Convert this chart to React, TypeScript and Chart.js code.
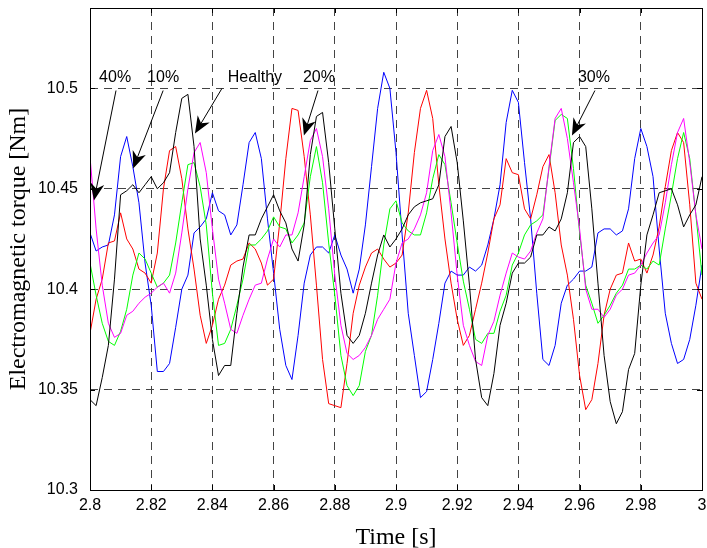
import React, { useEffect, useRef } from "react";
import { Chart, registerables } from "chart.js";

Chart.register(...registerables);

// Sample times [s]
const timeS = [
  2.800, 2.802, 2.804, 2.806, 2.808, 2.810, 2.812, 2.814, 2.816, 2.818,
  2.820, 2.822, 2.824, 2.826, 2.828, 2.830, 2.832, 2.834, 2.836, 2.838,
  2.840, 2.842, 2.844, 2.846, 2.848, 2.850, 2.852, 2.854, 2.856, 2.858,
  2.860, 2.862, 2.864, 2.866, 2.868, 2.870, 2.872, 2.874, 2.876, 2.878,
  2.880, 2.882, 2.884, 2.886, 2.888, 2.890, 2.892, 2.894, 2.896, 2.898,
  2.900, 2.902, 2.904, 2.906, 2.908, 2.910, 2.912, 2.914, 2.916, 2.918,
  2.920, 2.922, 2.924, 2.926, 2.928, 2.930, 2.932, 2.934, 2.936, 2.938,
  2.940, 2.942, 2.944, 2.946, 2.948, 2.950, 2.952, 2.954, 2.956, 2.958,
  2.960, 2.962, 2.964, 2.966, 2.968, 2.970, 2.972, 2.974, 2.976, 2.978,
  2.980, 2.982, 2.984, 2.986, 2.988, 2.990, 2.992, 2.994, 2.996, 2.998,
  3.000,
];

// Electromagnetic torque [Nm], one array per trace
const torqueBlue = [
  10.428, 10.419, 10.421, 10.422, 10.437, 10.466, 10.476, 10.461, 10.443, 10.413,
  10.392, 10.359, 10.359, 10.363, 10.381, 10.400, 10.407, 10.428, 10.431, 10.435,
  10.448, 10.439, 10.437, 10.427, 10.432, 10.452, 10.473, 10.478, 10.465, 10.435,
  10.408, 10.380, 10.362, 10.355, 10.377, 10.403, 10.417, 10.421, 10.421, 10.418,
  10.427, 10.417, 10.410, 10.398, 10.410, 10.432, 10.461, 10.490, 10.508, 10.500,
  10.468, 10.427, 10.388, 10.367, 10.346, 10.349, 10.365, 10.383, 10.403, 10.409,
  10.407, 10.407, 10.411, 10.409, 10.412, 10.422, 10.435, 10.452, 10.483, 10.499,
  10.493, 10.463, 10.435, 10.398, 10.365, 10.362, 10.372, 10.393, 10.402, 10.405,
  10.409, 10.409, 10.411, 10.428, 10.430, 10.430, 10.427, 10.429, 10.440, 10.465,
  10.480, 10.471, 10.456, 10.420, 10.388, 10.373, 10.363, 10.365, 10.375, 10.392,
  10.412,
];

const torqueRed = [
  10.378, 10.395, 10.405, 10.423, 10.424, 10.438, 10.425, 10.420, 10.410, 10.408,
  10.403, 10.418, 10.450, 10.469, 10.471, 10.455, 10.430, 10.410, 10.387, 10.373,
  10.382, 10.395, 10.402, 10.412, 10.414, 10.415, 10.423, 10.420, 10.413, 10.402,
  10.405, 10.433, 10.465, 10.490, 10.489, 10.466, 10.437, 10.402, 10.365, 10.343,
  10.342, 10.341, 10.363, 10.388, 10.402, 10.411, 10.418, 10.420, 10.415, 10.411,
  10.413, 10.417, 10.438, 10.468, 10.490, 10.499, 10.485, 10.452, 10.425, 10.403,
  10.385, 10.372, 10.377, 10.390, 10.403, 10.418, 10.435, 10.442, 10.465, 10.458,
  10.457, 10.440, 10.435, 10.447, 10.461, 10.467, 10.448, 10.422, 10.407, 10.385,
  10.357, 10.340, 10.345, 10.363, 10.387, 10.400, 10.407, 10.408, 10.423, 10.414,
  10.415, 10.408, 10.417, 10.431, 10.451, 10.469, 10.478, 10.473, 10.442, 10.403,
  10.395,
];

const torqueGreen = [
  10.413, 10.397, 10.383, 10.374, 10.372, 10.379, 10.390, 10.407, 10.418, 10.415,
  10.408, 10.401, 10.403, 10.407, 10.423, 10.443, 10.462, 10.463, 10.451, 10.432,
  10.398, 10.372, 10.373, 10.380, 10.392, 10.405, 10.422, 10.422, 10.425, 10.429,
  10.436, 10.431, 10.430, 10.423, 10.427, 10.433, 10.456, 10.471, 10.453, 10.423,
  10.397, 10.367, 10.352, 10.347, 10.352, 10.369, 10.377, 10.397, 10.422, 10.440,
  10.444, 10.433, 10.429, 10.427, 10.427, 10.438, 10.455, 10.467, 10.462, 10.443,
  10.423, 10.404, 10.390, 10.375, 10.373, 10.378, 10.378, 10.389, 10.397, 10.412,
  10.418, 10.427, 10.432, 10.434, 10.437, 10.460, 10.484, 10.487, 10.485, 10.460,
  10.428, 10.402, 10.393, 10.383, 10.387, 10.392, 10.398, 10.402, 10.410, 10.410,
  10.412, 10.410, 10.414, 10.412, 10.430, 10.447, 10.465, 10.478, 10.465, 10.437,
  10.407,
];

const torqueMagenta = [
  10.466, 10.430, 10.402, 10.383, 10.376, 10.378, 10.387, 10.389, 10.393, 10.396,
  10.398, 10.401, 10.403, 10.398, 10.408, 10.428, 10.450, 10.468, 10.473, 10.458,
  10.430, 10.405, 10.393, 10.380, 10.378, 10.387, 10.395, 10.402, 10.403, 10.415,
  10.425, 10.421, 10.427, 10.427, 10.438, 10.456, 10.474, 10.480, 10.466, 10.440,
  10.407, 10.382, 10.368, 10.365, 10.367, 10.371, 10.377, 10.385, 10.390, 10.395,
  10.413, 10.423, 10.425, 10.430, 10.437, 10.448, 10.469, 10.477, 10.466, 10.438,
  10.407, 10.382, 10.372, 10.364, 10.362, 10.377, 10.384, 10.397, 10.408, 10.418,
  10.416, 10.415, 10.419, 10.428, 10.435, 10.461, 10.485, 10.490, 10.475, 10.453,
  10.430, 10.400, 10.390, 10.390, 10.386, 10.390, 10.397, 10.400, 10.407, 10.408,
  10.412, 10.418, 10.423, 10.427, 10.443, 10.462, 10.478, 10.485, 10.463, 10.437,
  10.420,
];

const torqueBlack = [
  10.345, 10.342, 10.356, 10.372, 10.405, 10.447, 10.449, 10.452, 10.448, 10.452,
  10.456, 10.450, 10.453, 10.458, 10.478, 10.495, 10.497, 10.471, 10.425, 10.402,
  10.375, 10.357, 10.362, 10.362, 10.388, 10.411, 10.427, 10.427, 10.435, 10.441,
  10.447, 10.439, 10.433, 10.420, 10.414, 10.432, 10.467, 10.486, 10.488, 10.463,
  10.430, 10.398, 10.377, 10.373, 10.377, 10.388, 10.403, 10.417, 10.427, 10.421,
  10.425, 10.430, 10.437, 10.441, 10.443, 10.444, 10.445, 10.452, 10.476, 10.481,
  10.463, 10.434, 10.402, 10.365, 10.346, 10.342, 10.358, 10.382, 10.393, 10.408,
  10.413, 10.413, 10.416, 10.427, 10.427, 10.431, 10.429, 10.435, 10.448, 10.473,
  10.476, 10.471, 10.440, 10.403, 10.367, 10.344, 10.333, 10.339, 10.360, 10.368,
  10.402, 10.427, 10.437, 10.448, 10.449, 10.450, 10.442, 10.431, 10.437, 10.442,
  10.456,
];

// Axis ticks
const xTickValues = [2.8, 2.82, 2.84, 2.86, 2.88, 2.9, 2.92, 2.94, 2.96, 2.98, 3.0];
const xTickLabels = ["2.8", "2.82", "2.84", "2.86", "2.88", "2.9", "2.92", "2.94", "2.96", "2.98", "3"];
const yTickValues = [10.3, 10.35, 10.4, 10.45, 10.5];
const yTickLabels = ["10.3", "10.35", "10.4", "10.45", "10.5"];

// Annotations (in data coordinates)
const noteTexts = ["40%", "10%", "Healthy", "20%", "30%"];
const noteTextX = [2.8082, 2.8239, 2.8539, 2.8748, 2.9647];
const noteTextY = [10.5052, 10.5052, 10.5052, 10.5052, 10.5052];
const arrowTailX = [2.8085, 2.8239, 2.8431, 2.8745, 2.965];
const arrowTailY = [10.4989, 10.4989, 10.4999, 10.4989, 10.4989];
const arrowTipX = [2.8013, 2.8141, 2.8343, 2.8699, 2.9575];
const arrowTipY = [10.4442, 10.4601, 10.4775, 10.4765, 10.4765];

const SANS = "'Liberation Sans', Arial, sans-serif";
const SERIF = "'Liberation Serif', 'Times New Roman', serif";

const framePlugin = {
  id: "matlabFrame",
  afterDatasetsDraw(chart: any) {
    const { ctx, chartArea: a, scales } = chart;
    const xs = scales.x;
    const ys = scales.y;
    ctx.save();
    ctx.strokeStyle = "#000";
    ctx.lineWidth = 1;
    ctx.setLineDash([]);
    ctx.beginPath();
    const tl = 5;
    xTickValues.forEach((v) => {
      const px = Math.round(xs.getPixelForValue(v)) + 0.5;
      ctx.moveTo(px, a.bottom);
      ctx.lineTo(px, a.bottom - tl);
      ctx.moveTo(px, a.top);
      ctx.lineTo(px, a.top + tl);
    });
    yTickValues.forEach((v) => {
      const py = Math.round(ys.getPixelForValue(v)) + 0.5;
      ctx.moveTo(a.left, py);
      ctx.lineTo(a.left + tl, py);
      ctx.moveTo(a.right, py);
      ctx.lineTo(a.right - tl, py);
    });
    ctx.stroke();
    ctx.strokeRect(Math.round(a.left) + 0.5, Math.round(a.top) + 0.5, Math.round(a.right - a.left), Math.round(a.bottom - a.top));

    // annotations
    ctx.fillStyle = "#000";
    ctx.font = `16px ${SANS}`;
    ctx.textAlign = "center";
    ctx.textBaseline = "middle";
    noteTexts.forEach((txt, i) => {
      const tx = xs.getPixelForValue(noteTextX[i]);
      const ty = ys.getPixelForValue(noteTextY[i]);
      ctx.fillText(txt, tx, ty);
      const x0 = xs.getPixelForValue(arrowTailX[i]);
      const y0 = ys.getPixelForValue(arrowTailY[i]);
      const x1 = xs.getPixelForValue(arrowTipX[i]);
      const y1 = ys.getPixelForValue(arrowTipY[i]);
      const dx = x1 - x0;
      const dy = y1 - y0;
      const len = Math.hypot(dx, dy);
      const ux = dx / len;
      const uy = dy / len;
      const nx = -uy;
      const ny = ux;
      const L = 17;
      const W = 7;
      ctx.beginPath();
      ctx.moveTo(x0, y0);
      ctx.lineTo(x1 - ux * 8, y1 - uy * 8);
      ctx.stroke();
      const bx = x1 - ux * L;
      const by = y1 - uy * L;
      ctx.beginPath();
      ctx.moveTo(x1, y1);
      ctx.lineTo(bx + nx * W, by + ny * W);
      ctx.lineTo(x1 - ux * L * 0.7, y1 - uy * L * 0.7);
      ctx.lineTo(bx - nx * W, by - ny * W);
      ctx.closePath();
      ctx.fill();
    });
    ctx.restore();
  },
};

const zeroPadding = (s: any) => {
  s.paddingTop = 0;
  s.paddingBottom = 0;
  s.paddingLeft = 0;
  s.paddingRight = 0;
};

export default function App() {
  const canvasRef = useRef<HTMLCanvasElement | null>(null);

  useEffect(() => {
    const canvas = canvasRef.current;
    if (!canvas) return;
    const mk = (arr: number[]) => timeS.map((t, i) => ({ x: t, y: arr[i] }));
    const chart = new Chart(canvas, {
      type: "line",
      data: {
        datasets: [
          { label: "black", data: mk(torqueBlack), borderColor: "#000000" },
          { label: "magenta", data: mk(torqueMagenta), borderColor: "#ff00ff" },
          { label: "green", data: mk(torqueGreen), borderColor: "#00ff00" },
          { label: "red", data: mk(torqueRed), borderColor: "#ff0000" },
          { label: "blue", data: mk(torqueBlue), borderColor: "#0000ff" },
        ],
      },
      options: {
        animation: false,
        responsive: false,
        devicePixelRatio: 1,
        layout: { padding: { top: 8, right: 5, left: 0, bottom: 0 } },
        plugins: { legend: { display: false }, tooltip: { enabled: false } },
        elements: {
          point: { radius: 0 },
          line: { borderWidth: 1, tension: 0, fill: false },
        },
        scales: {
          x: {
            type: "linear",
            min: 2.8,
            max: 3.0,
            afterBuildTicks: (s: any) => {
              s.ticks = xTickValues.map((v) => ({ value: v }));
            },
            afterFit: (s: any) => {
              s.height = 58;
              zeroPadding(s);
            },
            ticks: {
              autoSkip: false,
              maxRotation: 0,
              padding: 6,
              color: "#000",
              font: { family: SANS, size: 16 },
              callback: (_v: any, i: number) => xTickLabels[i],
            },
            grid: { color: "#444", lineWidth: 1, drawTicks: false },
            border: { display: false, dash: [8, 6] },
            title: {
              display: true,
              text: "Time [s]",
              color: "#000",
              font: { family: SERIF, size: 24, lineHeight: 0.85 },
              padding: { top: 0, bottom: 0 },
            },
          },
          y: {
            type: "linear",
            min: 10.3,
            max: 10.54,
            afterBuildTicks: (s: any) => {
              s.ticks = yTickValues.map((v) => ({ value: v }));
            },
            afterFit: (s: any) => {
              s.width = 90;
              zeroPadding(s);
            },
            ticks: {
              padding: 12,
              color: "#000",
              font: { family: SANS, size: 16 },
              callback: (_v: any, i: number) => yTickLabels[i],
            },
            grid: { color: "#444", lineWidth: 1, drawTicks: false },
            border: { display: false, dash: [8, 6] },
            title: {
              display: true,
              text: "Electromagnetic torque [Nm]",
              color: "#000",
              font: { family: SERIF, size: 24 },
              padding: { top: 4, bottom: 0 },
            },
          },
        },
      },
      plugins: [framePlugin],
    });
    return () => chart.destroy();
  }, []);

  return (
    <div style={{ position: "fixed", left: 0, top: 0, width: 707, height: 548, background: "#fff" }}>
      <canvas ref={canvasRef} width={707} height={548} style={{ display: "block" }} />
    </div>
  );
}
